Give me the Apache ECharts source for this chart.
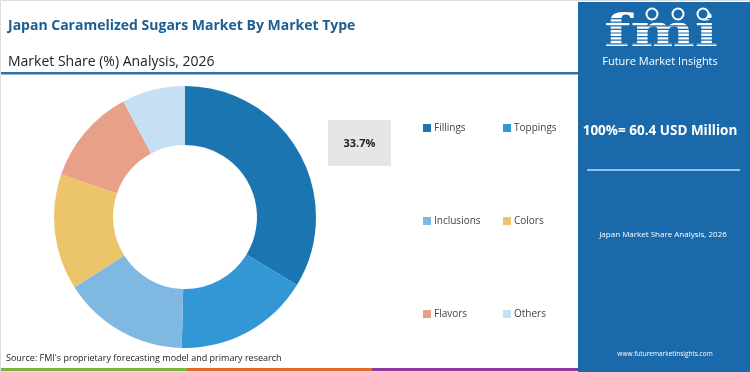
<!DOCTYPE html>
<html><head><meta charset="utf-8">
<script src="https://cdn.jsdelivr.net/npm/echarts@6/dist/echarts.min.js"></script>
<style>html,body{margin:0;padding:0;background:#fff}#c{width:750px;height:372px}</style>
</head><body><div id="c"></div>
<script>
const categories = ['Fillings', 'Toppings', 'Inclusions', 'Colors', 'Flavors', 'Others'];
const shares = [33.7, 16.7, 15.6, 14.3, 11.9, 7.8];
const sliceColors = ['#1b75b0', '#3397d6', '#7fb9e1', '#ecc56b', '#e9a088', '#c5e0f2'];
const titleText = 'Japan Caramelized Sugars Market By Market Type';
const subtitleText = 'Market Share (%) Analysis, 2026';
const totalText = '100%= 60.4 USD Million';
const panelSub = 'Japan Market Share Analysis, 2026';
const sourceText = "Source: FMI's proprietary forecasting model and primary research";
const siteText = 'www.futuremarketinsights.com';

const chart = echarts.init(document.getElementById('c'), null, {renderer: 'canvas'});
const F = 'Open Sans';
const data = categories.map((n, i) => ({name: n, value: shares[i], itemStyle: {color: sliceColors[i]}}));

const stripes = [];
for (let y = 18; y < 51; y += 3.6) {
  stripes.push({type: 'rect', shape: {x: 598, y: y, width: 126, height: 1.2}, style: {fill: '#1a6aab'}, z: 12});
}
const legendText = {fontFamily: F, fontSize: 10, color: '#444', padding: [0, 0, 0, -2]};

chart.setOption({
  animation: false,
  legend: [
    {data: [categories[0], categories[2], categories[4]], orient: 'vertical', left: 418, top: 118, itemGap: 83,
     itemWidth: 8, itemHeight: 8, icon: 'rect', textStyle: legendText},
    {data: [categories[1], categories[3], categories[5]], orient: 'vertical', left: 498, top: 118, itemGap: 83,
     itemWidth: 8, itemHeight: 8, icon: 'rect', textStyle: legendText}
  ],
  series: [{
    type: 'pie', radius: [72, 131], center: [185, 217], startAngle: 90, clockwise: true,
    label: {show: false}, labelLine: {show: false}, silent: true,
    data: data
  }],
  graphic: [
    {type: 'rect', shape: {x: 0.5, y: 0.5, width: 749, height: 371}, style: {fill: 'none', stroke: '#dddddd', lineWidth: 1}, z: 1},
    {type: 'text', x: 8, y: 26, style: {text: titleText, font: 'bold 14px "' + F + '"', fill: '#1b5e92', textVerticalAlign: 'middle'}},
    {type: 'text', x: 8, y: 62, style: {text: subtitleText, font: '14px "' + F + '"', fill: '#222', textVerticalAlign: 'middle'}},
    {type: 'rect', shape: {x: 0, y: 72, width: 578, height: 2.5}, style: {fill: '#2a72ab'}},
    {type: 'rect', shape: {x: 328, y: 120, width: 63, height: 46}, style: {fill: '#e6e6e6'}},
    {type: 'text', x: 359.5, y: 144, style: {text: shares[0].toFixed(1) + '%', font: 'bold 11px "' + F + '"', fill: '#222', textAlign: 'center', textVerticalAlign: 'middle'}},
    {type: 'text', x: 6, y: 358, style: {text: sourceText, font: '9px "' + F + '"', fill: '#222', textVerticalAlign: 'middle'}},
    {type: 'rect', shape: {x: 0, y: 368, width: 187, height: 4}, style: {fill: '#7cb342'}},
    {type: 'rect', shape: {x: 187, y: 368, width: 185, height: 4}, style: {fill: '#e06a2c'}},
    {type: 'rect', shape: {x: 372, y: 368, width: 206, height: 4}, style: {fill: '#8e3a96'}},
    {type: 'rect', shape: {x: 578, y: 2, width: 172, height: 370}, style: {fill: '#1a6aab'}, z: 10},
    {type: 'text', x: 661, y: 35, scaleX: 1.38, style: {text: 'fmi', font: 'bold 44px "DejaVu Serif"', fill: '#ffffff', textAlign: 'center', textVerticalAlign: 'middle'}, z: 11},
    ...stripes,
    {type: 'circle', shape: {cx: 652, cy: 14, r: 5.5}, style: {fill: '#1a6aab', stroke: '#fff', lineWidth: 2}, z: 13},
    {type: 'circle', shape: {cx: 678, cy: 14, r: 5.5}, style: {fill: '#1a6aab', stroke: '#fff', lineWidth: 2}, z: 13},
    {type: 'circle', shape: {cx: 703, cy: 14, r: 5.5}, style: {fill: '#1a6aab', stroke: '#fff', lineWidth: 2}, z: 13},
    {type: 'text', x: 660, y: 62, style: {text: 'Future Market Insights', font: '11px "' + F + '"', fill: '#ffffff', textAlign: 'center', textVerticalAlign: 'middle'}, z: 13},
    {type: 'text', x: 660, y: 131, style: {text: totalText, font: 'bold 13.5px "' + F + '"', fill: '#ffffff', textAlign: 'center', textVerticalAlign: 'middle'}, z: 13},
    {type: 'rect', shape: {x: 587, y: 169, width: 153, height: 2}, style: {fill: '#8cc4ec'}, z: 13},
    {type: 'text', x: 663, y: 235, style: {text: panelSub, font: '8px "' + F + '"', fill: '#ffffff', textAlign: 'center', textVerticalAlign: 'middle'}, z: 13},
    {type: 'text', x: 665, y: 354, style: {text: siteText, font: '6.5px "' + F + '"', fill: '#ffffff', textAlign: 'center', textVerticalAlign: 'middle'}, z: 13}
  ]
});
</script></body></html>
